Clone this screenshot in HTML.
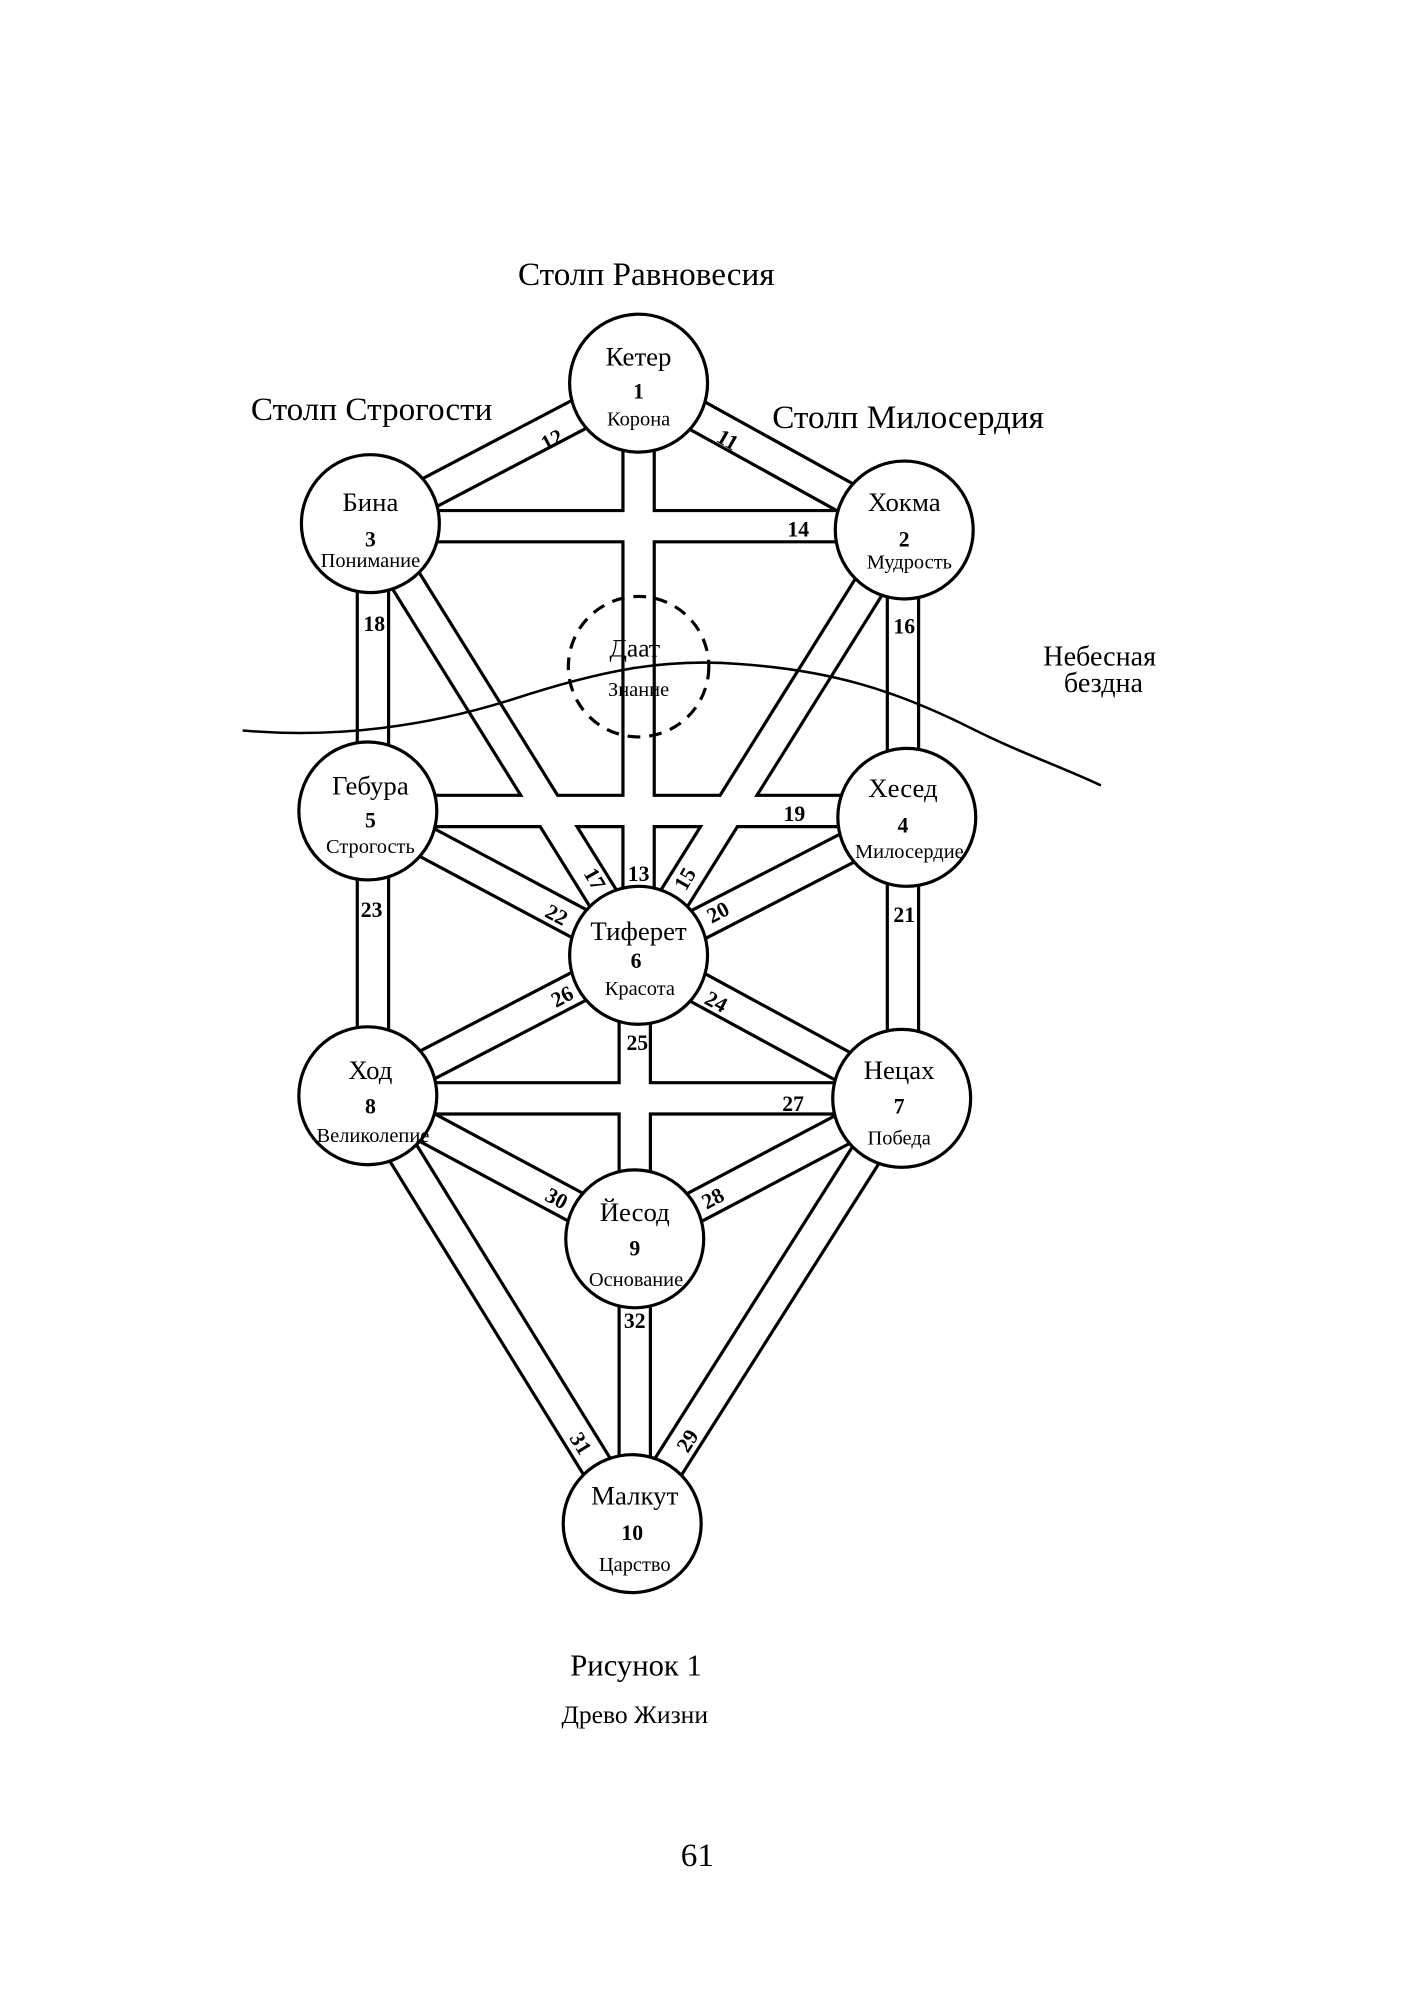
<!DOCTYPE html>
<html><head><meta charset="utf-8"><style>
html,body{margin:0;padding:0;background:#fff;}
svg{display:block;}
text{font-family:"Liberation Serif",serif;fill:#000;}
</style></head><body>
<svg width="1410" height="2000" viewBox="0 0 1104 1566" preserveAspectRatio="none" xmlns="http://www.w3.org/2000/svg">
<rect width="1104" height="1566" fill="#fff"/>
<g stroke-linecap="butt">
<g stroke="#000" stroke-width="27" fill="none">
<line x1="500" y1="300" x2="290" y2="410"/>
<line x1="500" y1="300" x2="708" y2="415"/>
<line x1="500" y1="300" x2="500" y2="748"/>
<line x1="290" y1="412" x2="708" y2="412"/>
<line x1="292" y1="410" x2="292" y2="858"/>
<line x1="707" y1="415" x2="707" y2="860"/>
<line x1="290" y1="410" x2="500" y2="748"/>
<line x1="708" y1="415" x2="500" y2="748"/>
<line x1="288" y1="635" x2="710" y2="635"/>
<line x1="288" y1="635" x2="500" y2="748"/>
<line x1="710" y1="640" x2="500" y2="748"/>
<line x1="500" y1="748" x2="288" y2="858"/>
<line x1="500" y1="748" x2="706" y2="860"/>
<line x1="497" y1="748" x2="497" y2="1193"/>
<line x1="288" y1="860" x2="706" y2="860"/>
<line x1="288" y1="858" x2="497" y2="970"/>
<line x1="706" y1="860" x2="497" y2="970"/>
<line x1="288" y1="858" x2="495" y2="1193"/>
<line x1="706" y1="860" x2="495" y2="1193"/>
</g>
<g stroke="#fff" stroke-width="22" fill="none">
<line x1="500" y1="300" x2="290" y2="410"/>
<line x1="500" y1="300" x2="708" y2="415"/>
<line x1="500" y1="300" x2="500" y2="748"/>
<line x1="290" y1="412" x2="708" y2="412"/>
<line x1="292" y1="410" x2="292" y2="858"/>
<line x1="707" y1="415" x2="707" y2="860"/>
<line x1="290" y1="410" x2="500" y2="748"/>
<line x1="708" y1="415" x2="500" y2="748"/>
<line x1="288" y1="635" x2="710" y2="635"/>
<line x1="288" y1="635" x2="500" y2="748"/>
<line x1="710" y1="640" x2="500" y2="748"/>
<line x1="500" y1="748" x2="288" y2="858"/>
<line x1="500" y1="748" x2="706" y2="860"/>
<line x1="497" y1="748" x2="497" y2="1193"/>
<line x1="288" y1="860" x2="706" y2="860"/>
<line x1="288" y1="858" x2="497" y2="970"/>
<line x1="706" y1="860" x2="497" y2="970"/>
<line x1="288" y1="858" x2="495" y2="1193"/>
<line x1="706" y1="860" x2="495" y2="1193"/>
</g>
</g>
<circle cx="500" cy="522" r="55" fill="none" stroke="#000" stroke-width="2.5" stroke-dasharray="10,7"/>
<path d="M190,572 C260,578 330,570 400,548 C470,525 520,515 580,520 C650,525 700,540 760,570 C800,590 830,600 862,615" fill="none" stroke="#000" stroke-width="2"/>
<g fill="#fff" stroke="#000" stroke-width="2.5">
<circle cx="500" cy="300" r="54"/>
<circle cx="290" cy="410" r="54"/>
<circle cx="708" cy="415" r="54"/>
<circle cx="288" cy="635" r="54"/>
<circle cx="710" cy="640" r="54"/>
<circle cx="500" cy="748" r="54"/>
<circle cx="288" cy="858" r="54"/>
<circle cx="706" cy="860" r="54"/>
<circle cx="497" cy="970" r="54"/>
<circle cx="495" cy="1193" r="54"/>
</g>
<g text-anchor="middle" font-size="21">
<text x="500" y="286">Кетер</text><text x="500" y="312" font-weight="bold" font-size="17">1</text><text x="500" y="333" font-size="16">Корона</text>
<text x="290" y="400">Бина</text><text x="290" y="428" font-weight="bold" font-size="17">3</text><text x="290" y="444" font-size="16">Понимание</text>
<text x="708" y="400">Хокма</text><text x="708" y="428" font-weight="bold" font-size="17">2</text><text x="712" y="445" font-size="16">Мудрость</text>
<text x="497" y="514" font-size="20">Даат</text><text x="500" y="545" font-size="16">Знание</text>
<text x="290" y="622">Гебура</text><text x="290" y="648" font-weight="bold" font-size="17">5</text><text x="290" y="668" font-size="16">Строгость</text>
<text x="707" y="624">Хесед</text><text x="707" y="652" font-weight="bold" font-size="17">4</text><text x="712" y="672" font-size="16">Милосердие</text>
<text x="500" y="736">Тиферет</text><text x="498" y="758" font-weight="bold" font-size="17">6</text><text x="501" y="779" font-size="16">Красота</text>
<text x="290" y="845">Ход</text><text x="290" y="872" font-weight="bold" font-size="17">8</text><text x="292" y="894" font-size="16">Великолепие</text>
<text x="704" y="845">Нецах</text><text x="704" y="872" font-weight="bold" font-size="17">7</text><text x="704" y="896" font-size="16">Победа</text>
<text x="497" y="956">Йесод</text><text x="497" y="983" font-weight="bold" font-size="17">9</text><text x="498" y="1007" font-size="16">Основание</text>
<text x="497" y="1178">Малкут</text><text x="495" y="1206" font-weight="bold" font-size="17">10</text><text x="497" y="1230" font-size="16">Царство</text>
</g>
<g font-size="17" font-weight="bold" text-anchor="middle">
<text x="432" y="350" transform="rotate(-28 432 344)">12</text>
<text x="570" y="350" transform="rotate(30 570 344)">11</text>
<text x="625" y="420">14</text>
<text x="293" y="494">18</text>
<text x="708" y="496">16</text>
<text x="622" y="643">19</text>
<text x="291" y="718">23</text>
<text x="708" y="722">21</text>
<text x="500" y="690">13</text>
<text x="466" y="694" transform="rotate(60 466 688)">17</text>
<text x="536" y="694" transform="rotate(-60 536 688)">15</text>
<text x="436" y="722" transform="rotate(28 436 716)">22</text>
<text x="562" y="720" transform="rotate(-28 562 714)">20</text>
<text x="440" y="786" transform="rotate(-28 440 780)">26</text>
<text x="561" y="790" transform="rotate(28 561 784)">24</text>
<text x="499" y="822">25</text>
<text x="621" y="870">27</text>
<text x="436" y="944" transform="rotate(28 436 938)">30</text>
<text x="558" y="944" transform="rotate(-28 558 938)">28</text>
<text x="497" y="1040">32</text>
<text x="455" y="1136" transform="rotate(58 455 1130)">31</text>
<text x="538" y="1134" transform="rotate(-58 538 1128)">29</text>
</g>
<g font-size="26" text-anchor="middle">
<text x="506" y="223">Столп Равновесия</text>
<text x="291" y="329">Столп Строгости</text>
<text x="711" y="335">Столп Милосердия</text>
</g>
<text x="861" y="521" font-size="22" text-anchor="middle">Небесная</text>
<text x="864" y="542" font-size="22" text-anchor="middle">бездна</text>
<text x="498" y="1312" font-size="24" text-anchor="middle">Рисунок 1</text>
<text x="497" y="1349" font-size="20" text-anchor="middle">Древо Жизни</text>
<text x="546" y="1461" font-size="26" text-anchor="middle">61</text>
</svg>
</body></html>
